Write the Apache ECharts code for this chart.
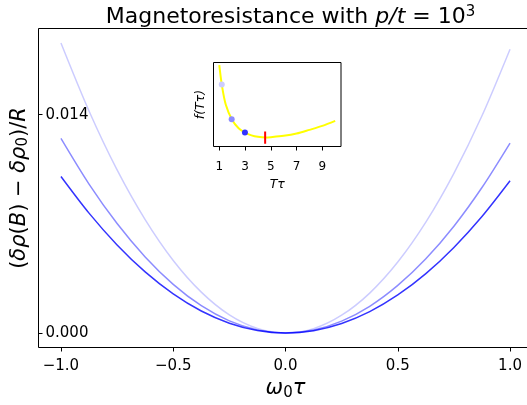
<!DOCTYPE html>
<html>
<head>
<meta charset="utf-8">
<script src="https://cdn.jsdelivr.net/npm/echarts@6/dist/echarts.min.js"></script>
<style>
    html, body { margin: 0; padding: 0; background: #fff; }
    #chart { width: 527px; height: 405px; }
</style>
</head>
<body>
<div id="chart"></div>
<script>
// main panel: magnetoresistance vs omega_0 tau
const omega = [-1, -0.875, -0.75, -0.625, -0.5, -0.375, -0.25, -0.125, 0, 0.125, 0.25, 0.375, 0.5, 0.625, 0.75, 0.875, 1];
const mrLight = [0.0186, 0.01424, 0.01046, 0.00727, 0.00465, 0.00262, 0.00116, 0.00029, 0,
    0.00028, 0.00114, 0.00256, 0.00455, 0.00711, 0.01024, 0.01393, 0.0182];
const mrMid = [0.01248, 0.00955, 0.00702, 0.00488, 0.00312, 0.00175, 0.00078, 0.0002, 0,
    0.00019, 0.00076, 0.00171, 0.00305, 0.00476, 0.00685, 0.00933, 0.01218];
const mrDark = [0.01004, 0.00769, 0.00565, 0.00392, 0.00251, 0.00141, 0.00063, 0.00016, 0,
    0.00015, 0.00061, 0.00137, 0.00244, 0.00381, 0.00549, 0.00747, 0.00976];
const xTicks = [-1, -0.5, 0, 0.5, 1];
const yTicks = [0, 0.014];

// inset: f(T tau)
const tTau = [1, 1.2, 1.5, 2, 2.5, 3, 3.5, 4, 4.6, 5, 6, 7, 8, 9, 10];
const fCurve = [0.968, 0.73, 0.5, 0.315, 0.218, 0.166, 0.133, 0.115, 0.107, 0.111, 0.127, 0.154, 0.198, 0.245, 0.305];
const dotT = [1.19, 1.96, 2.99];
const dotF = [0.739, 0.325, 0.166];
const minT = 4.56;
const minBar = [0.032, 0.178];
const insetTicks = [1, 3, 5, 7, 9];

const shades = ['rgba(0,0,255,0.2)', 'rgba(0,0,255,0.45)', 'rgba(0,0,255,0.8)'];
const dotShades = ['#ccccff', '#8c8cff', '#3333ff'];
const font = 'DejaVu Sans';

function pairs(xs, ys) {
    return xs.map((x, i) => [x, ys[i]]);
}

function fmtTick(v) {
    return (v < 0 ? '\u2212' : '') + Math.abs(v).toFixed(1);
}

let chart = echarts.init(document.getElementById('chart'), null, { renderer: 'canvas' });

let option = {
    animation: false,
    backgroundColor: '#fff',
    textStyle: { fontFamily: font },
    title: {
        text: '{a|Magnetoresistance with }{i|p/t}{a| = 10}{s|3}',
        left: 285.5,
        textAlign: 'center',
        top: 0,
        textStyle: {
            fontWeight: 'normal',
            rich: {
                a: { fontFamily: font, fontSize: 22, color: '#000', fontWeight: 'normal' },
                i: { fontFamily: font, fontSize: 22, fontStyle: 'italic', color: '#000', fontWeight: 'normal' },
                s: { fontFamily: font, fontSize: 15, color: '#000', fontWeight: 'normal', padding: [0, 0, 10, 0] }
            }
        }
    },
    grid: [
        { left: 38.5, top: 28.5, right: -5.5, bottom: 57.5, outerBoundsMode: 'none', show: true, borderColor: '#000', borderWidth: 1 },
        { left: 213.5, top: 62.5, width: 127.5, height: 84, outerBoundsMode: 'none', show: true, borderColor: '#000', borderWidth: 1, backgroundColor: '#fff', z: 5 }
    ],
    xAxis: [
        {
            type: 'value', gridIndex: 0, min: -1.1, max: 1.1,
            splitLine: { show: false },
            axisLine: { show: false, onZero: false },
            axisTick: { show: true, length: 4, lineStyle: { color: '#000' }, customValues: xTicks },
            axisLabel: { color: '#000', fontSize: 15, margin: 11, formatter: fmtTick, customValues: xTicks },
            name: '{i|ω}{s|0}{i|τ}',
            nameLocation: 'middle',
            nameGap: 27,
            nameTextStyle: {
                rich: {
                    i: { fontFamily: font, fontSize: 21, fontStyle: 'italic', color: '#000' },
                    s: { fontFamily: font, fontSize: 15, color: '#000', padding: [8, 0, 0, 0] }
                }
            }
        },
        {
            type: 'value', gridIndex: 1, min: 0.55, max: 10.45,
            splitLine: { show: false },
            axisLine: { show: false, onZero: false },
            axisTick: { show: true, length: 4, lineStyle: { color: '#000' }, customValues: insetTicks },
            axisLabel: { color: '#000', fontSize: 12, margin: 14, customValues: insetTicks },
            name: '{i|Tτ}',
            nameLocation: 'middle',
            nameGap: 32,
            nameTextStyle: {
                rich: { i: { fontFamily: font, fontSize: 12.5, fontStyle: 'italic', color: '#000' } }
            }
        }
    ],
    yAxis: [
        {
            type: 'value', gridIndex: 0, min: -0.00093, max: 0.01953,
            splitLine: { show: false },
            axisLine: { show: false, onZero: false },
            axisTick: { show: true, inside: true, length: 4, lineStyle: { color: '#000' }, customValues: yTicks },
            axisLabel: { inside: true, color: '#000', fontSize: 15, margin: 7, formatter: v => v.toFixed(3), customValues: yTicks },
            name: '({i|δρ}({i|B}) − {i|δρ}{s|0})/{i|R}',
            nameLocation: 'middle',
            nameRotate: 90,
            nameGap: 0,
            nameTextStyle: {
                fontFamily: font, fontSize: 21, color: '#000',
                rich: {
                    i: { fontFamily: font, fontSize: 21, fontStyle: 'italic', color: '#000' },
                    s: { fontFamily: font, fontSize: 15, color: '#000', padding: [8, 0, 0, 0] }
                }
            }
        },
        {
            type: 'value', gridIndex: 1, min: 0, max: 1,
            splitLine: { show: false },
            axisLine: { show: false, onZero: false },
            axisTick: { show: false },
            axisLabel: { show: false },
            name: '{i|f}(Tτ)',
            nameLocation: 'middle',
            nameRotate: 90,
            nameGap: 6,
            nameTextStyle: {
                fontFamily: font, fontSize: 12.5, fontStyle: 'italic', color: '#000',
                rich: { i: { fontFamily: font, fontSize: 12.5, fontStyle: 'italic', color: '#000' } }
            }
        }
    ],
    series: [
        { type: 'line', xAxisIndex: 0, yAxisIndex: 0, data: pairs(omega, mrLight), smooth: 0.3, showSymbol: false, lineStyle: { color: shades[0], width: 1.5 } },
        { type: 'line', xAxisIndex: 0, yAxisIndex: 0, data: pairs(omega, mrMid), smooth: 0.3, showSymbol: false, lineStyle: { color: shades[1], width: 1.5 } },
        { type: 'line', xAxisIndex: 0, yAxisIndex: 0, data: pairs(omega, mrDark), smooth: 0.3, showSymbol: false, lineStyle: { color: shades[2], width: 1.5 } },
        { type: 'line', xAxisIndex: 1, yAxisIndex: 1, z: 6, data: pairs(tTau, fCurve), smooth: 0.3, showSymbol: false, lineStyle: { color: '#ffff00', width: 2 } },
        { type: 'line', xAxisIndex: 1, yAxisIndex: 1, z: 7, data: minBar.map(v => [minT, v]), showSymbol: false, lineStyle: { color: '#ff0000', width: 2 } },
        {
            type: 'scatter', xAxisIndex: 1, yAxisIndex: 1, z: 8, symbolSize: 6,
            data: dotT.map((t, i) => ({ value: [t, dotF[i]], itemStyle: { color: dotShades[i], opacity: 1 } }))
        }
    ]
};

chart.setOption(option);
</script>
</body>
</html>
